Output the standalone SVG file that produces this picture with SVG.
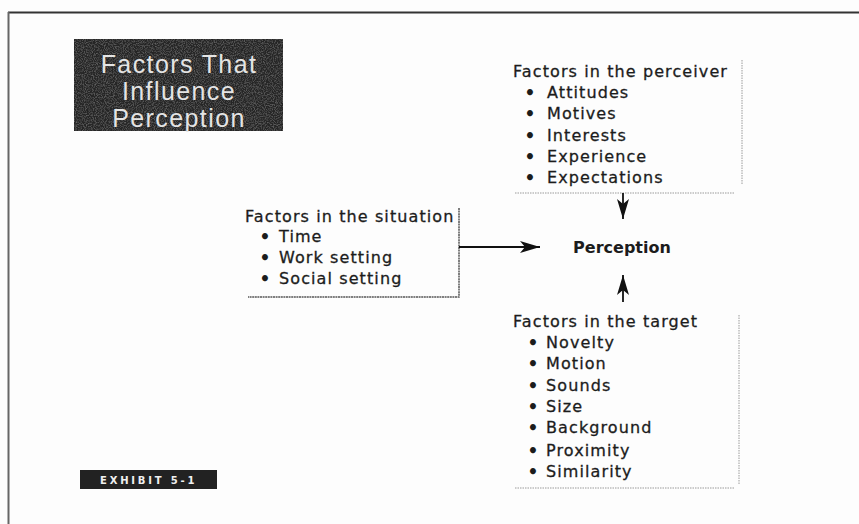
<svg xmlns="http://www.w3.org/2000/svg" width="859" height="524" viewBox="0 0 859 524">
  <style>
    .body { font-family: "DejaVu Sans", "Liberation Sans", sans-serif; font-size: 16px; letter-spacing: 1.1px; fill: #1c1c1c; stroke: #1c1c1c; stroke-width: 0.3px; }
    .dot { font-family: "DejaVu Sans", "Liberation Sans", sans-serif; font-size: 17px; font-weight: bold; fill: #1c1c1c; text-anchor: middle; }
    .title { font-family: "Liberation Sans", Arial, sans-serif; font-size: 25px; letter-spacing: 1.4px; fill: #e4e4e4; text-anchor: middle; }
    .tag { font-family: "DejaVu Sans", "Liberation Sans", sans-serif; font-size: 10px; font-weight: bold; fill: #f0f0f0; letter-spacing: 2.8px; }
    .frame { fill: none; stroke: #9a9a9a; stroke-width: 1; stroke-dasharray: 1.5 1; }
    .frame-dark { fill: none; stroke: #555; stroke-width: 1.5; stroke-dasharray: 2 0.6; }
    .conn { stroke: #111; stroke-width: 1.8; fill: none; }
  </style>
  <defs>
    <marker id="head" viewBox="0 0 20 12" refX="20" refY="6" markerWidth="20" markerHeight="12" markerUnits="userSpaceOnUse" orient="auto">
      <path d="M0,0 L20,6 L0,12 L5,6 z" fill="#111"/>
    </marker>
    <!-- light speckled print texture for the dark title panel -->
    <filter id="grain" x="0" y="0" width="100%" height="100%">
      <feTurbulence type="fractalNoise" baseFrequency="0.9" numOctaves="2" seed="3" result="n"/>
      <feColorMatrix in="n" type="matrix" values="0 0 0 0 0.4  0 0 0 0 0.4  0 0 0 0 0.4  0 0 0 0.6 -0.25" result="speck"/>
      <feComposite in="speck" in2="SourceGraphic" operator="in" result="clip"/>
      <feMerge><feMergeNode in="SourceGraphic"/><feMergeNode in="clip"/></feMerge>
    </filter>
  </defs>

  <rect width="859" height="524" fill="#fdfdfd"/>

  <!-- page frame: top and left rules -->
  <line x1="8" y1="12.5" x2="859" y2="12.5" stroke="#333" stroke-width="2"/>
  <line x1="8.5" y1="12" x2="8.5" y2="524" stroke="#666" stroke-width="2"/>

  <!-- title panel -->
  <g id="title">
    <rect x="74" y="39" width="209" height="92" fill="#262626" filter="url(#grain)"/>
    <text class="title" x="179" y="73">Factors That</text>
    <text class="title" x="179" y="100">Influence</text>
    <text class="title" x="179" y="127">Perception</text>
  </g>

  <!-- perceiver factors -->
  <g id="perceiver">
    <path class="frame" d="M742,60 V185 M515,193 H735"/>
    <text class="body" x="513" y="77">Factors in the perceiver</text>
    <g class="dot">
      <text x="530" y="99">•</text>
      <text x="530" y="120">•</text>
      <text x="530" y="142">•</text>
      <text x="530" y="163">•</text>
      <text x="530" y="184">•</text>
    </g>
    <text class="body" x="547" y="98">Attitudes</text>
    <text class="body" x="547" y="119">Motives</text>
    <text class="body" x="547" y="141">Interests</text>
    <text class="body" x="547" y="162">Experience</text>
    <text class="body" x="547" y="183">Expectations</text>
  </g>

  <!-- situation factors -->
  <g id="situation">
    <path class="frame-dark" d="M459,208 V297 H248"/>
    <text class="body" x="245" y="222">Factors in the situation</text>
    <g class="dot">
      <text x="265" y="243">•</text>
      <text x="265" y="264">•</text>
      <text x="265" y="285">•</text>
    </g>
    <text class="body" x="279" y="242">Time</text>
    <text class="body" x="279" y="263">Work setting</text>
    <text class="body" x="279" y="284">Social setting</text>
  </g>

  <!-- central concept -->
  <g id="perception">
    <text x="622" y="253" text-anchor="middle" font-family="DejaVu Sans, Liberation Sans, sans-serif" font-size="16" font-weight="bold" fill="#1c1c1c">Perception</text>
  </g>

  <!-- target factors -->
  <g id="target">
    <path class="frame" d="M739,315 V485 M515,488 H735"/>
    <text class="body" x="513" y="327">Factors in the target</text>
    <g class="dot">
      <text x="533" y="349">•</text>
      <text x="533" y="370">•</text>
      <text x="533" y="392">•</text>
      <text x="533" y="413">•</text>
      <text x="533" y="434">•</text>
      <text x="533" y="457">•</text>
      <text x="533" y="478">•</text>
    </g>
    <text class="body" x="546" y="348">Novelty</text>
    <text class="body" x="546" y="369">Motion</text>
    <text class="body" x="546" y="391">Sounds</text>
    <text class="body" x="546" y="412">Size</text>
    <text class="body" x="546" y="433">Background</text>
    <text class="body" x="546" y="456">Proximity</text>
    <text class="body" x="546" y="477">Similarity</text>
  </g>

  <!-- exhibit tag -->
  <g id="exhibit">
    <rect x="80" y="470" width="137" height="19" fill="#222"/>
    <text class="tag" x="100" y="483.5">EXHIBIT 5-1</text>
  </g>

  <!-- connectors -->
  <g id="connectors">
    <line class="conn" x1="623" y1="193" x2="623" y2="219" marker-end="url(#head)"/>
    <line class="conn" x1="623" y1="302" x2="623" y2="275" marker-end="url(#head)"/>
    <line class="conn" x1="459" y1="247" x2="540" y2="247" marker-end="url(#head)"/>
  </g>
</svg>
